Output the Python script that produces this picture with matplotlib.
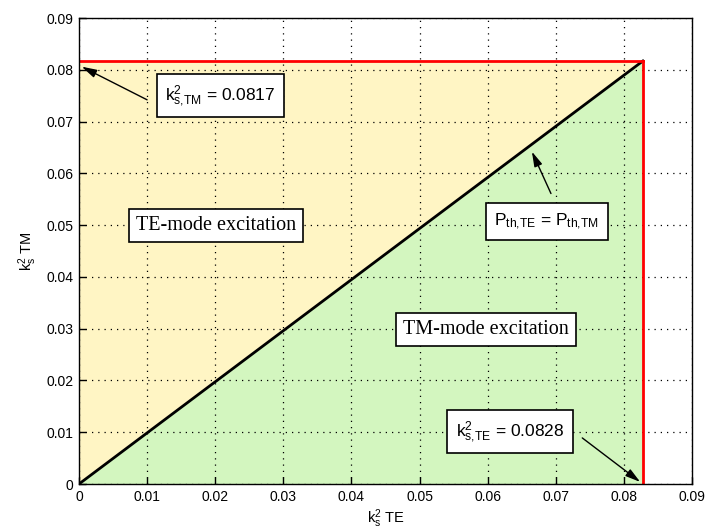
import matplotlib

matplotlib.use("Agg")

import matplotlib.pyplot as plt

# coupling thresholds for the two mode families
K2_TE = 0.0828
K2_TM = 0.0817

X_TICKS = [0, 0.01, 0.02, 0.03, 0.04, 0.05, 0.06, 0.07, 0.08, 0.09]
Y_TICKS = [0, 0.01, 0.02, 0.03, 0.04, 0.05, 0.06, 0.07, 0.08, 0.09]
TICK_LABELS = ["0", "0.01", "0.02", "0.03", "0.04", "0.05", "0.06", "0.07", "0.08", "0.09"]

YELLOW = "#fff5c4"
GREEN = "#d3f6bf"

plt.rcParams["font.family"] = ["Liberation Sans", "DejaVu Sans"]
plt.rcParams["mathtext.fontset"] = "custom"
plt.rcParams["mathtext.rm"] = "Liberation Sans"


def label_box(ax, x, y, text, pad=0.35, **kw):
    ax.text(x, y, text, ha="center", va="center", zorder=6,
            bbox=dict(boxstyle=f"square,pad={pad}", fc="white", ec="black", lw=1.2), **kw)


def arrow(ax, start, end):
    ax.annotate("", xy=end, xytext=start, zorder=7,
                arrowprops=dict(arrowstyle="-|>,head_length=0.9,head_width=0.25",
                                color="black", lw=1.0, shrinkA=0, shrinkB=0))


fig = plt.figure(figsize=(7.07, 5.31), dpi=100)
ax = fig.add_axes([0.1117, 0.0885, 0.867, 0.8776])

# regions either side of the equal-threshold line
ax.fill([0, 0, K2_TE], [0, K2_TM, K2_TM], color=YELLOW, lw=0, zorder=1)
ax.fill([0, K2_TE, K2_TE], [0, 0, K2_TM], color=GREEN, lw=0, zorder=1)

ax.plot([0, K2_TE], [0, K2_TM], color="black", lw=2, zorder=4)
ax.plot([0, K2_TE], [K2_TM, K2_TM], color="red", lw=2, zorder=4)
ax.plot([K2_TE, K2_TE], [0, K2_TM], color="red", lw=2, zorder=4)

ax.set_xlim(X_TICKS[0], X_TICKS[-1])
ax.set_ylim(Y_TICKS[0], Y_TICKS[-1])
ax.set_xticks(X_TICKS)
ax.set_yticks(Y_TICKS)
ax.set_xticklabels(TICK_LABELS)
ax.set_yticklabels(TICK_LABELS)
ax.tick_params(direction="in", length=5, width=1, labelsize=10, pad=4)
ax.grid(True, linestyle=(0, (1, 4)), color="black", lw=0.9, zorder=2)
ax.set_axisbelow(False)
for spine in ax.spines.values():
    spine.set_linewidth(1.0)
    spine.set_zorder(5)

ax.set_xlabel(r"$\mathregular{k_s^2}$ TE", fontsize=10.5, labelpad=3)
ax.set_ylabel(r"$\mathregular{k_s^2}$ TM", fontsize=10.5, labelpad=5)

serif = ["Liberation Serif", "DejaVu Serif"]
label_box(ax, 0.0201, 0.0500, "TE-mode excitation", family=serif, fontsize=14.5)
label_box(ax, 0.0598, 0.0298, "TM-mode excitation", family=serif, fontsize=14.5)
label_box(ax, 0.0208, 0.0750, r"$\mathregular{k^2_{s{,}TM}}$ = 0.0817", pad=0.5, fontsize=12.5)
label_box(ax, 0.0633, 0.0101, r"$\mathregular{k^2_{s{,}TE}}$ = 0.0828", pad=0.5, fontsize=12.5)
label_box(ax, 0.0687, 0.0507, r"$\mathregular{P_{th{,}TE}}$ = $\mathregular{P_{th{,}TM}}$",
          pad=0.5, fontsize=12.5)

arrow(ax, (0.0100, 0.0742), (0.0004, 0.0806))
arrow(ax, (0.0739, 0.0089), (0.0824, 0.0004))
arrow(ax, (0.0693, 0.0561), (0.0665, 0.0642))

fig.savefig("out.png", dpi=100)
